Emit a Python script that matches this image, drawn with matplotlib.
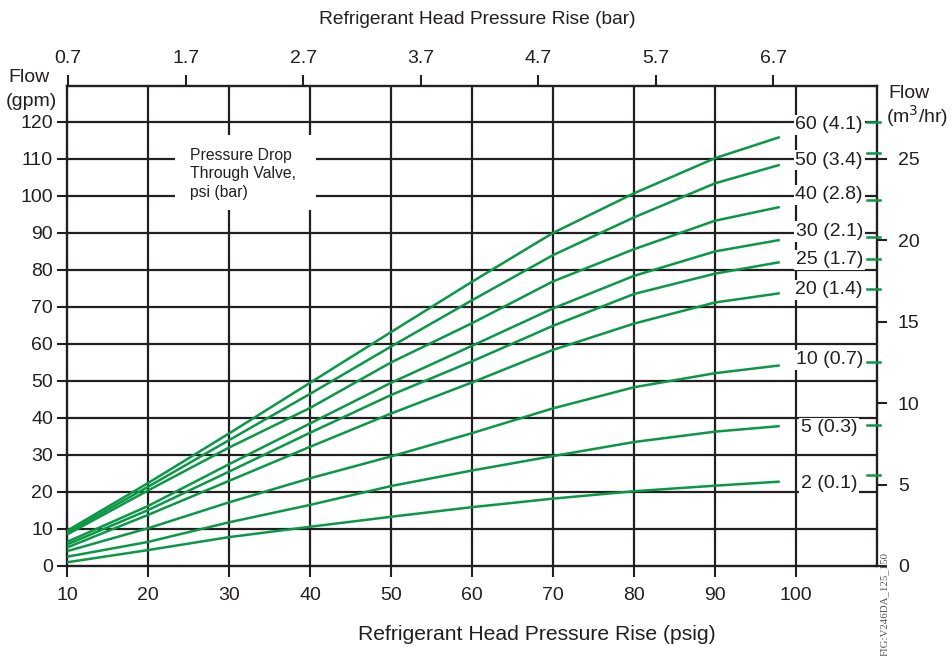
import matplotlib
matplotlib.use("Agg")
import matplotlib.pyplot as plt
from matplotlib import font_manager

names = {f.name for f in font_manager.fontManager.ttflist}
SANS = ['Liberation Sans', 'DejaVu Sans']
NARROW = ['Liberation Sans Narrow', 'Liberation Sans', 'DejaVu Sans'] if 'Liberation Sans Narrow' in names else ['Liberation Sans', 'DejaVu Sans']
plt.rcParams['font.family'] = SANS

# ---------------- data ----------------
psig = [10, 20, 30, 40, 50, 60, 70, 80, 90, 98]
curve_labels = ["60 (4.1)", "50 (3.4)", "40 (2.8)", "30 (2.1)", "25 (1.7)",
                "20 (1.4)", "10 (0.7)", "5 (0.3)", "2 (0.1)"]
flow_60 = [9.5, 22.4, 35.8, 49.5, 63.2, 76.8, 90.0, 100.7, 110.2, 115.9]
flow_50 = [9.0, 21.4, 34.0, 46.5, 59.3, 71.8, 84.0, 94.2, 103.4, 108.4]
flow_40 = [8.5, 20.4, 32.0, 42.7, 55.0, 65.6, 76.9, 85.6, 93.3, 97.0]
flow_30 = [6.5, 16.2, 27.5, 38.5, 49.5, 59.5, 69.6, 78.4, 85.0, 88.1]
flow_25 = [5.8, 15.1, 25.5, 36.0, 46.2, 55.3, 64.9, 73.5, 79.0, 82.1]
flow_20 = [5.0, 13.8, 23.0, 32.2, 41.2, 49.6, 58.4, 65.5, 71.2, 73.7]
flow_10 = [4.0, 10.2, 17.2, 23.7, 29.6, 35.9, 42.6, 48.3, 52.1, 54.2]
flow_5 = [2.5, 6.5, 11.8, 16.5, 21.6, 25.8, 29.7, 33.5, 36.3, 37.8]
flow_2 = [1.0, 4.3, 7.8, 10.6, 13.3, 15.9, 18.2, 20.2, 21.7, 22.8]
series = [flow_60, flow_50, flow_40, flow_30, flow_25, flow_20, flow_10, flow_5, flow_2]
label_y = [119.2, 109.7, 100.3, 90.4, 82.7, 74.6, 55.7, 37.3, 22.2]
stub_y = [120.0, 111.7, 98.9, 89.0, 83.0, 74.9, 55.0, 38.1, 24.6]

x_ticks = [10, 20, 30, 40, 50, 60, 70, 80, 90, 100]
y_ticks = [0, 10, 20, 30, 40, 50, 60, 70, 80, 90, 100, 110, 120]
bar_ticks = [0.7, 1.7, 2.7, 3.7, 4.7, 5.7, 6.7]
m3_ticks = [0, 5, 10, 15, 20, 25]
PSI_PER_BAR = 14.5038
M3_PER_GPM = 0.22712

XMIN, XMAX = 10, 110
YMIN, YMAX = 0, 129.7

GREEN = '#0a9848'
BLACK = '#231f20'
W, H = 953, 656
AX_L, AX_R, AX_T, AX_B = 67, 877, 86, 566

fig = plt.figure(figsize=(W / 100, H / 100), dpi=100)
ax = fig.add_axes([AX_L / W, 1 - AX_B / H, (AX_R - AX_L) / W, (AX_B - AX_T) / H])
ax.set_xlim(XMIN, XMAX)
ax.set_ylim(YMIN, YMAX)

for s in ax.spines.values():
    s.set_color(BLACK)
    s.set_linewidth(1.7)

# grid
for xv in x_ticks[1:]:
    ax.axvline(xv, color=BLACK, lw=1.6, zorder=1)
for yv in y_ticks[1:]:
    ax.axhline(yv, color=BLACK, lw=1.6, zorder=1)

# curves
for ys in series:
    ax.plot(psig, ys, color=GREEN, lw=1.8, zorder=3, solid_capstyle='butt')

# stubs at right spine
for sy in stub_y:
    ax.plot([108.8, 110.4], [sy, sy], color=GREEN, lw=1.8, zorder=3, clip_on=False)

# curve labels
for lab, ly in zip(curve_labels, label_y):
    ax.text(104.1, ly, lab, ha='center', va='center', fontsize=14, color=BLACK,
            zorder=5, bbox=dict(facecolor='white', edgecolor='none', pad=1.2))

# annotation box
ax.add_patch(plt.Rectangle((23.3, 96.2), 17.4, 20.3, facecolor='white',
                           edgecolor='none', zorder=2))
ax.text(25.2, 112.9, "Pressure Drop\nThrough Valve,\npsi (bar)", ha='left', va='top',
        fontsize=11.3, color=BLACK, linespacing=1.27, zorder=5)

# bottom / left ticks
ax.set_xticks(x_ticks)
ax.set_yticks(y_ticks)
ax.tick_params(axis='x', direction='out', length=8, width=1.5, color=BLACK,
               labelsize=14, pad=7, labelcolor=BLACK)
ax.tick_params(axis='y', direction='out', length=7, width=1.5, color=BLACK,
               labelsize=14, pad=3, labelcolor=BLACK)
ax.set_xlabel("Refrigerant Head Pressure Rise (psig)", fontsize=15.2, color=BLACK)
ax.xaxis.set_label_coords((537 - AX_L) / (AX_R - AX_L), -(634 - AX_B) / (AX_B - AX_T))
ax.xaxis.label.set_va('center')

# top axis (bar)
axt = ax.twiny()
axt.set_xlim(XMIN / PSI_PER_BAR, XMAX / PSI_PER_BAR)
axt.set_xticks(bar_ticks)
axt.set_xticklabels([f"{b:.1f}" for b in bar_ticks], family=NARROW)
axt.tick_params(axis='x', direction='out', length=8, width=1.5, color=BLACK,
                labelsize=14, pad=6, labelcolor=BLACK)
axt.set_xlabel("Refrigerant Head Pressure Rise (bar)", fontsize=13.8, color=BLACK,
               family=NARROW)
axt.xaxis.set_label_coords((477 - AX_L) / (AX_R - AX_L), 1 + (AX_T - 19) / (AX_B - AX_T))
axt.xaxis.label.set_va('center')
for s in axt.spines.values():
    s.set_visible(False)

# right axis (m3/hr)
axr = ax.twinx()
axr.set_ylim(YMIN * M3_PER_GPM, YMAX * M3_PER_GPM)
axr.set_yticks(m3_ticks)
axr.tick_params(axis='y', direction='out', length=7, width=1.5, color=BLACK,
                labelsize=14, pad=8, labelcolor=BLACK)
for s in axr.spines.values():
    s.set_visible(False)

# axis titles
fig.text(8 / W, 1 - 78 / H, "Flow", fontsize=14, ha='left', va='center', color=BLACK)
fig.text(6 / W, 1 - 101 / H, "(gpm)", fontsize=14, ha='left', va='center', color=BLACK)
fig.text(888 / W, 1 - 93 / H, "Flow", fontsize=14, ha='left', va='center', color=BLACK)
fig.text(886 / W, 1 - 116 / H, "(m$^3$/hr)", fontsize=14, ha='left', va='center', color=BLACK)

fig.text(884 / W, 1 - 604 / H, "FIG:V246DA_125_150", rotation=90, fontsize=7.8,
         ha='center', va='center', color='#555555', family=['Liberation Serif', 'DejaVu Serif'])

fig.savefig("out.png", dpi=100)
